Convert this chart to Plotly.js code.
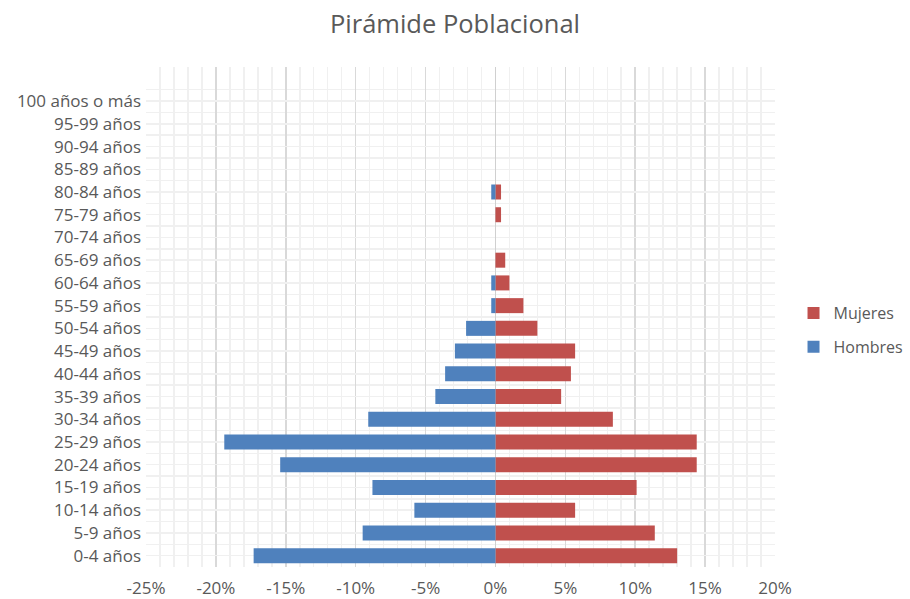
<!DOCTYPE html>
<html>
<head>
<meta charset="utf-8">
<script src="https://cdn.plot.ly/plotly-3.0.1.min.js"></script>
<style>html,body{margin:0;padding:0;background:#fff;}#chart{width:910px;height:599px;}</style>
</head>
<body>
<div id="chart"></div>
<script>
const categories = ["0-4 años","5-9 años","10-14 años","15-19 años","20-24 años","25-29 años","30-34 años","35-39 años","40-44 años","45-49 años","50-54 años","55-59 años","60-64 años","65-69 años","70-74 años","75-79 años","80-84 años","85-89 años","90-94 años","95-99 años","100 años o más"];
const hombres = [-17.3,-9.5,-5.8,-8.8,-15.4,-19.4,-9.1,-4.3,-3.6,-2.9,-2.1,-0.3,-0.3,0,0,0,-0.3,0,0,0,0];
const mujeres = [13.0,11.4,5.7,10.1,14.4,14.4,8.4,4.7,5.4,5.7,3.0,2.0,1.0,0.7,0,0.4,0.4,0,0,0,0];
const xTicks = [-25,-20,-15,-10,-5,0,5,10,15,20];

const pos = categories.map((c,i)=>i);
const font = "'Open Sans', sans-serif";
const traces = [
  {type:'bar', orientation:'h', name:'Mujeres', legendgroup:'m', y:pos, x:mujeres, width:0.66,
   marker:{color:'#C0504D', line:{width:0}}, hoverinfo:'x+name'},
  {type:'bar', orientation:'h', name:'Hombres', legendgroup:'h', y:pos, x:hombres, width:0.66,
   marker:{color:'#4F81BD', line:{width:0}}, hoverinfo:'x+name'}
];
const layout = {
  width:910, height:599,
  margin:{l:146, r:135, t:67, b:32, autoexpand:false},
  paper_bgcolor:'#fff', plot_bgcolor:'#fff',
  barmode:'relative',
  font:{family:font, color:'#595959', size:17},
  title:{text:'Pirámide Poblacional', x:0.5, xanchor:'center', y:0.96, yanchor:'middle',
         font:{family:font, size:25.5, color:'#595959'}},
  xaxis:{range:[-25,20], tickmode:'array', tickvals:xTicks, ticktext:xTicks.map(v=>v+'%'),
         showgrid:true, gridcolor:'#d9d9d9', gridwidth:1.5,
         zeroline:true, zerolinecolor:'#d0d0d0', zerolinewidth:1.5,
         minor:{dtick:1, tick0:0, showgrid:true, gridcolor:'#f0f0f0', gridwidth:1.5},
         ticks:'', ticklabelstandoff:9, tickfont:{size:17, color:'#595959'}, fixedrange:true},
  yaxis:{range:[-0.5,21.5], tickmode:'array', tickvals:pos, ticktext:categories,
         showgrid:true, gridcolor:'#f0f0f0', gridwidth:1.5, zeroline:false,
         minor:{dtick:1, tick0:0.5, showgrid:true, gridcolor:'#f0f0f0', gridwidth:1.5},
         ticks:'', ticklabelstandoff:4, tickfont:{size:17, color:'#595959'}, fixedrange:true},
  legend:{xref:'container', yref:'container', x:0.872, xanchor:'left', y:0.449, yanchor:'middle',
          traceorder:'grouped', tracegroupgap:10,
          font:{size:16, color:'#595959'}, itemwidth:30},
  showlegend:true
};
Plotly.newPlot('chart', traces, layout, {displayModeBar:false, staticPlot:true});
</script>
</body>
</html>
